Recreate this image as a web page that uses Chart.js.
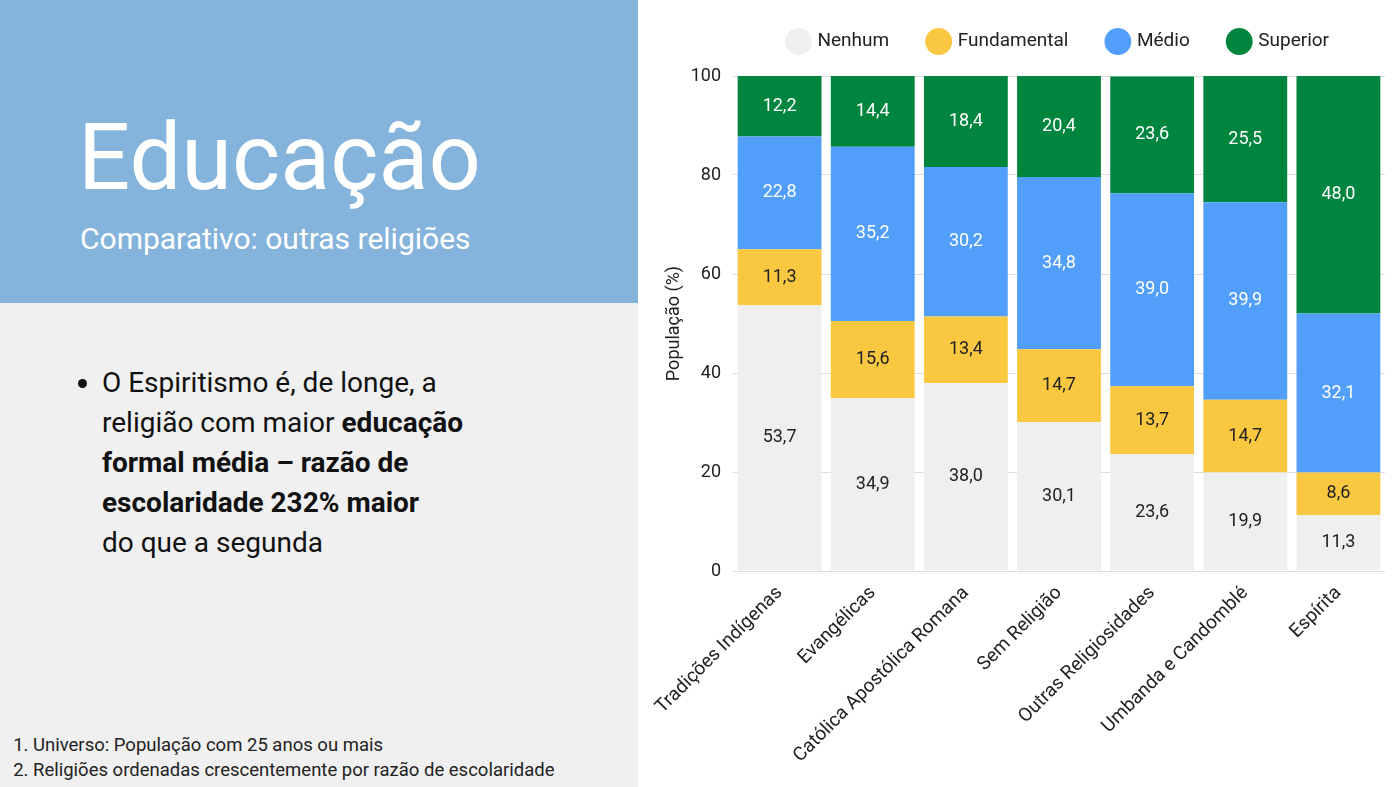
<!DOCTYPE html>
<html lang="pt-BR">
<head>
<meta charset="utf-8">
<title>Educação - Comparativo</title>
<script src="https://cdn.jsdelivr.net/npm/chart.js@4"></script>
<style>
  html, body { margin: 0; padding: 0; }
  body { width: 1400px; height: 787px; position: relative; overflow: hidden; background: #fff; font-family: "Roboto", sans-serif; }
  #header { position: absolute; left: 0; top: 0; width: 638px; height: 303px; background: #84b3dc; color: #fff; }
  #header h1 { position: absolute; left: 78px; top: 112px; margin: 0; font-size: 92px; font-weight: 400; letter-spacing: 0; line-height: 1; }
  #header h2 { position: absolute; left: 80px; top: 221px; margin: 0; font-size: 30px; font-weight: 400; line-height: 1.2; }
  #body { position: absolute; left: 0; top: 303px; width: 638px; height: 484px; background: #f0f0f0; color: #111; }
  #body ul { position: absolute; left: 72px; top: 60px; margin: 0; padding-left: 30px; width: 440px; font-size: 28px; line-height: 40px; }
  #body ol { position: absolute; left: 0; top: 430px; margin: 0; padding-left: 33px; font-size: 18.5px; line-height: 25px; color: #222; }
  #wrap { position: absolute; left: 640px; top: 0; width: 760px; height: 787px; }
</style>
</head>
<body>
<div id="header">
  <h1>Educação</h1>
  <h2>Comparativo: outras religiões</h2>
</div>
<div id="body">
  <ul>
    <li>O Espiritismo é, de longe, a<br>religião com maior <b>educação<br>formal média – razão de<br>escolaridade 232% maior</b><br>do que a segunda</li>
  </ul>
  <ol>
    <li>Universo: População com 25 anos ou mais</li>
    <li>Religiões ordenadas crescentemente por razão de escolaridade</li>
  </ol>
</div>
<div id="wrap"><canvas id="chart"></canvas></div>

<script>
// ---------- dados ----------
const religioes = [
  "Tradições Indígenas",
  "Evangélicas",
  "Católica Apostólica Romana",
  "Sem Religião",
  "Outras Religiosidades",
  "Umbanda e Candomblé",
  "Espírita"
];

const nenhum      = [53.7, 34.9, 38.0, 30.1, 23.6, 19.9, 11.3];
const fundamental = [11.3, 15.6, 13.4, 14.7, 13.7, 14.7, 8.6];
const medio       = [22.8, 35.2, 30.2, 34.8, 39.0, 39.9, 32.1];
const superior    = [12.2, 14.4, 18.4, 20.4, 23.6, 25.5, 48.0];

const yTicks = [0, 20, 40, 60, 80, 100];

// ---------- rótulos dentro das barras ----------
const barLabels = {
  id: "barLabels",
  afterDatasetsDraw(chart) {
    const ctx = chart.ctx;
    ctx.save();
    ctx.font = "18px Roboto";
    ctx.textAlign = "center";
    ctx.textBaseline = "middle";
    chart.data.datasets.forEach((ds, i) => {
      const meta = chart.getDatasetMeta(i);
      meta.data.forEach((bar, j) => {
        const p = bar.getCenterPoint();
        ctx.fillStyle = ds.labelColor;
        ctx.fillText(ds.data[j].toFixed(1).replace(".", ","), p.x, p.y);
      });
    });
    ctx.restore();
  }
};

// ---------- espaço abaixo da legenda ----------
const legendSpace = {
  id: "legendSpace",
  beforeInit(chart) {
    const fit = chart.legend.fit;
    chart.legend.fit = function () {
      fit.call(this);
      this.height = 84;
    };
  }
};

Chart.defaults.font.family = "Roboto";
Chart.defaults.color = "#222";

new Chart(document.getElementById("chart"), {
  type: "bar",
  data: {
    labels: religioes,
    datasets: [
      { label: "Nenhum", data: nenhum, backgroundColor: "#efefef", labelColor: "#222" },
      { label: "Fundamental", data: fundamental, backgroundColor: "#f9c740", labelColor: "#222" },
      { label: "Médio", data: medio, backgroundColor: "#529ffb", labelColor: "#fff" },
      { label: "Superior", data: superior, backgroundColor: "#00853e", labelColor: "#fff" }
    ]
  },
  options: {
    responsive: true,
    maintainAspectRatio: false,
    animation: false,
    layout: { padding: { left: 24, right: 15, top: -8, bottom: 0 } },
    datasets: { bar: { categoryPercentage: 1, barPercentage: 0.9, borderWidth: 0 } },
    plugins: {
      legend: {
        position: "top",
        fullSize: false,
        labels: {
          usePointStyle: true,
          pointStyle: "circle",
          boxWidth: 20,
          boxHeight: 20,
          padding: 40,
          font: { size: 19 },
          color: "#222"
        }
      },
      tooltip: { enabled: false }
    },
    scales: {
      x: {
        stacked: true,
        grid: { display: false },
        border: { display: false },
        ticks: { minRotation: 45, maxRotation: 45, font: { size: 19 }, color: "#222" },
        afterFit(scale) { scale.height = 216; }
      },
      y: {
        stacked: true,
        min: 0,
        max: 100,
        afterBuildTicks(scale) { scale.ticks = yTicks.map(v => ({ value: v })); },
        grid: { color: "#dddddd", drawTicks: false },
        border: { display: false },
        ticks: { padding: 12, font: { size: 18 }, color: "#222" },
        title: { display: true, text: "População (%)", font: { size: 18 }, color: "#222", padding: 0 },
        afterFit(scale) { scale.width = 69; }
      }
    }
  },
  plugins: [barLabels, legendSpace]
});
</script>
</body>
</html>
